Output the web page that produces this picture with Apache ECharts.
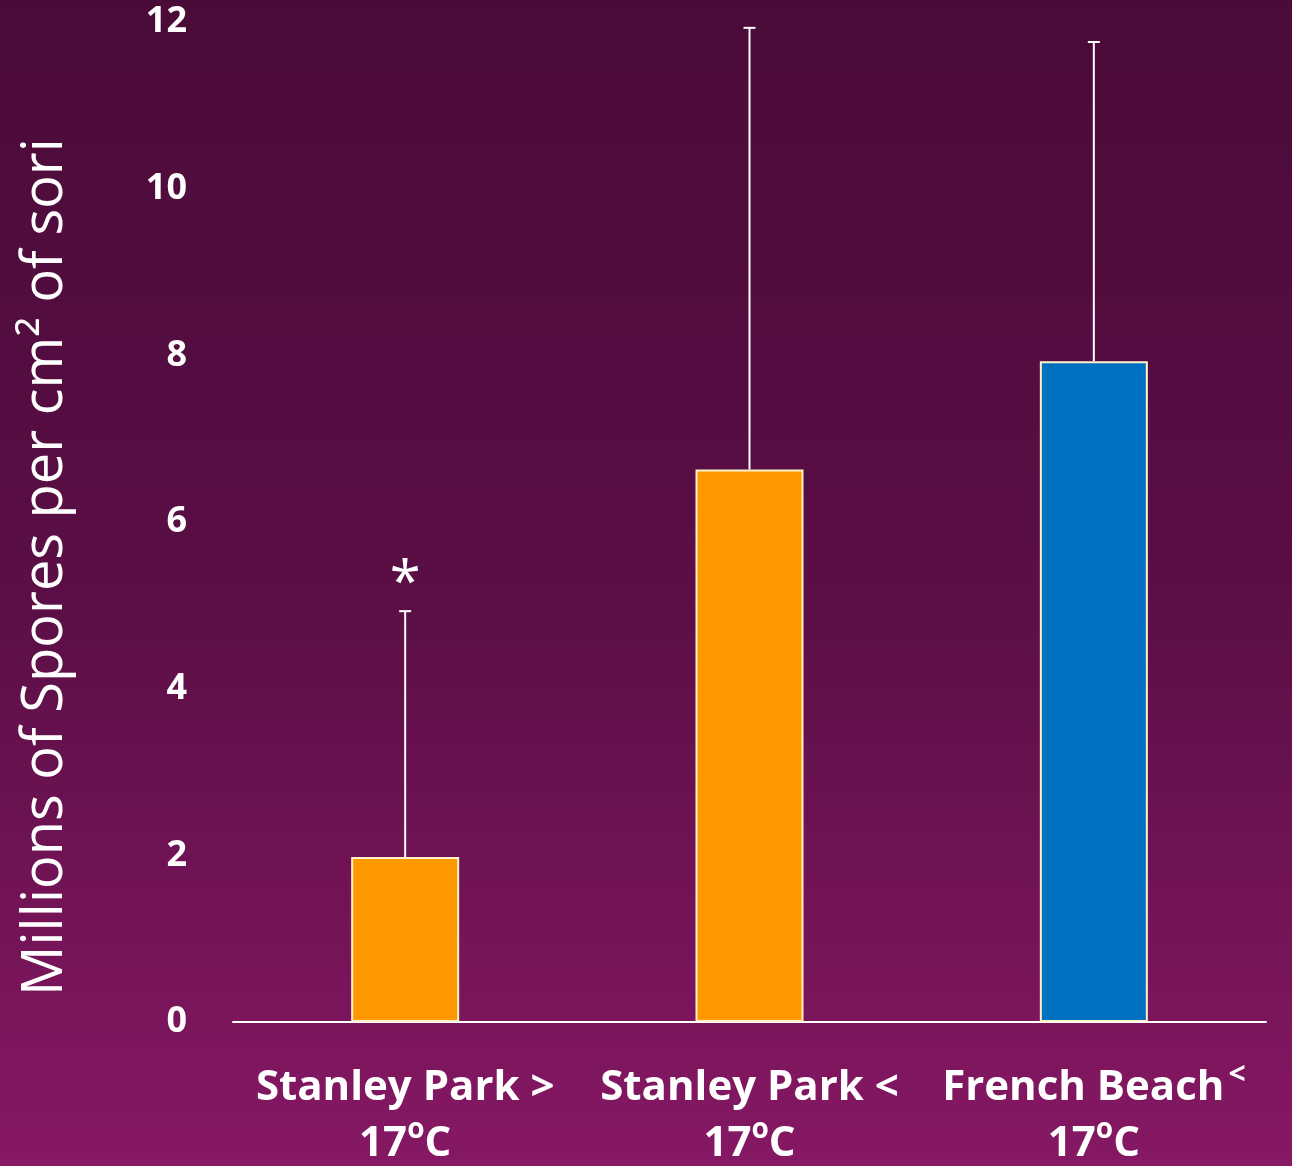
<!DOCTYPE html>
<html><head><meta charset="utf-8">
<script src="https://cdn.jsdelivr.net/npm/echarts@6/dist/echarts.min.js"></script>
<style>html,body{margin:0;padding:0;}#c{width:1292px;height:1166px;}</style>
</head><body><div id="c"></div>
<script>
var categories = ['Stanley Park >', 'Stanley Park <', 'French Beach'];
var categorySup = ['', '', '<'];
var tempLabels = ['17', '17', '17'];
var means = [1.98, 6.63, 7.93];
var upperErr = [4.93, 11.93, 11.76];
var marks = ['*', '', ''];
var barColors = ['#FF9900', '#FF9900', '#0070C0'];
var yTicks = {min: 0, max: 12, interval: 2};

var FONT = '"Liberation Sans Narrow", "Open Sans", sans-serif';
var chart = echarts.init(document.getElementById('c'));
var option = {
  backgroundColor: {
    type: 'linear', x: 0, y: 0, x2: 0, y2: 1,
    colorStops: [{offset: 0, color: '#4a0b38'}, {offset: 0.5, color: '#5a0e45'}, {offset: 1, color: '#861864'}]
  },
  grid: {left: 233, right: 26, top: 22, bottom: 144},
  xAxis: {
    type: 'category', data: categories,
    axisLine: {lineStyle: {color: '#ffffff', width: 2}},
    axisTick: {show: false},
    axisLabel: {
      margin: 38, interval: 0,
      formatter: function (v, i) {
        return '{a|' + v + '}' + (categorySup[i] ? '{s|' + categorySup[i] + '}' : '') + '\n{a|' + tempLabels[i] + '}{o|o}{a|C}';
      },
      rich: {
        a: {color: '#fff', fontSize: 42, fontWeight: 'bold', fontFamily: FONT, lineHeight: 56},
        s: {color: '#fff', fontSize: 30, fontWeight: 'bold', fontFamily: FONT, verticalAlign: 'top', lineHeight: 56, padding: [0, 0, 14, 4]},
        o: {color: '#fff', fontSize: 28, fontWeight: 'bold', fontFamily: FONT, verticalAlign: 'top', lineHeight: 56, padding: [0, 0, 12, 0]}
      }
    }
  },
  yAxis: {
    type: 'value', min: yTicks.min, max: yTicks.max, interval: yTicks.interval,
    axisLine: {show: false}, axisTick: {show: false}, splitLine: {show: false},
    axisLabel: {color: '#fff', fontSize: 36, fontWeight: 'bold', fontFamily: FONT, margin: 46}
  },
  graphic: [{
    type: 'text', x: 46, y: 567, rotation: Math.PI / 2,
    style: {text: 'Millions of Spores per cm\u00b2 of sori', fill: '#fff', fontSize: 56, fontFamily: FONT,
      textAlign: 'center', textVerticalAlign: 'middle'}
  }],
  series: [{
    type: 'bar', barWidth: 108,
    data: means.map(function (v, i) {
      return {value: v, itemStyle: {color: barColors[i], borderColor: '#FFF2CC', borderWidth: 2}};
    })
  }, {
    type: 'custom',
    data: means.map(function (v, i) { return [i, v, upperErr[i]]; }),
    renderItem: function (params, api) {
      var i = api.value(0);
      var p0 = api.coord([i, api.value(1)]);
      var p1 = api.coord([i, api.value(2)]);
      var ch = [
        {type: 'line', shape: {x1: p0[0], y1: p0[1], x2: p1[0], y2: p1[1]}, style: {stroke: '#fff', lineWidth: 2}},
        {type: 'line', shape: {x1: p1[0] - 6, y1: p1[1], x2: p1[0] + 6, y2: p1[1]}, style: {stroke: '#fff', lineWidth: 2}}
      ];
      if (marks[i]) {
        ch.push({type: 'text', x: p1[0], y: p1[1] + 2, style: {text: marks[i], fill: '#fff', fontSize: 56, fontFamily: FONT,
          textAlign: 'center', textVerticalAlign: 'bottom'}});
      }
      return {type: 'group', children: ch};
    },
    z: 3
  }]
};
chart.setOption(option);
</script></body></html>
